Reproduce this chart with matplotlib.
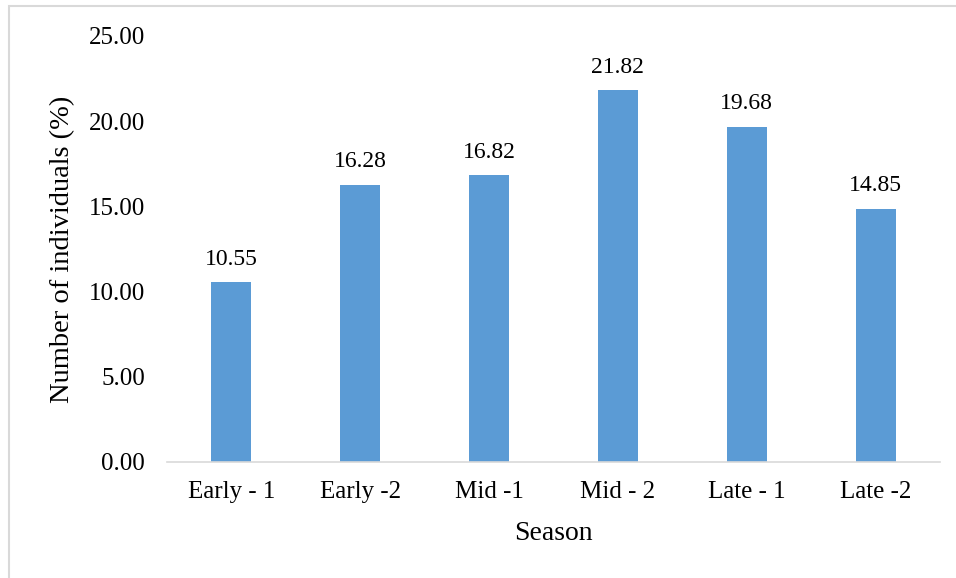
import matplotlib.pyplot as plt
from matplotlib.patches import Rectangle

plt.rcParams["font.family"] = ["Liberation Serif", "DejaVu Serif"]

seasons = ["Early - 1", "Early -2", "Mid -1", "Mid - 2", "Late - 1", "Late -2"]
individuals_pct = [10.55, 16.28, 16.82, 21.82, 19.68, 14.85]
y_ticks = [0, 5, 10, 15, 20, 25]

W, H = 956, 578
fig = plt.figure(figsize=(W / 100, H / 100), dpi=100)
ax = fig.add_axes([167 / W, (H - 462) / H, (940 - 167) / W, (462 - 36) / H])

x = range(len(seasons))
ax.bar(x, individuals_pct, width=0.31, color="#5B9BD5", zorder=2)
for xi, v in zip(x, individuals_pct):
    ax.annotate(f"{v:.2f}", (xi, v), xytext=(0, 9), textcoords="offset points",
                ha="center", va="bottom", fontsize=17)

ax.set_xlim(-0.5, len(seasons) - 0.5)
ax.set_ylim(0, 25)
ax.set_yticks(y_ticks)
ax.set_yticklabels([f"{t:.2f}" for t in y_ticks], fontsize=18)
ax.set_xticks(list(x))
ax.set_xticklabels(seasons, fontsize=18)
ax.tick_params(axis="both", length=0)
ax.tick_params(axis="x", pad=14)
ax.tick_params(axis="y", pad=16)

for side in ("top", "right", "left"):
    ax.spines[side].set_visible(False)
ax.spines["bottom"].set_color("#D9D9D9")
ax.spines["bottom"].set_linewidth(1.2)

ax.set_xlabel("Season", fontsize=20, labelpad=13)
ax.set_ylabel("Number of individuals (%)", fontsize=20.5, labelpad=10)

# thin frame around the chart area
fig.patches.append(Rectangle((8.5 / W, -0.01), 2, 1 - 5.5 / H + 0.01,
                             transform=fig.transFigure, fill=False,
                             edgecolor="#D9D9D9", linewidth=1.5))

fig.savefig("out.png", dpi=100)
